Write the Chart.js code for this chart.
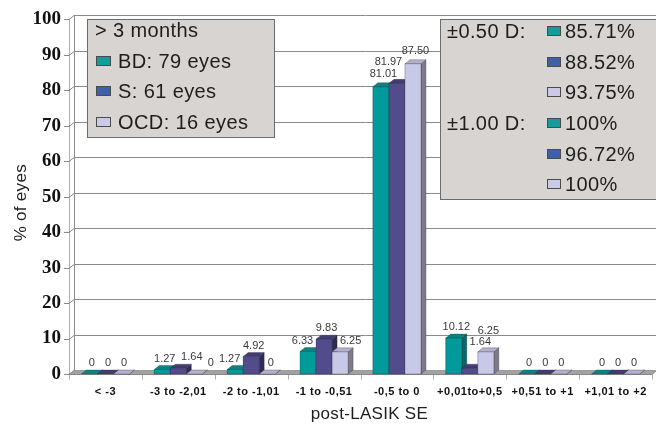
<!DOCTYPE html>
<html>
<head>
<meta charset="utf-8">
<script src="https://cdn.jsdelivr.net/npm/chart.js@4.4.0/dist/chart.umd.min.js"></script>
<style>
  html, body { margin: 0; padding: 0; background: #ffffff; }
  #wrap { width: 656px; height: 427px; position: relative; }
</style>
</head>
<body>
<div id="wrap"><canvas id="c" width="656" height="427"></canvas></div>
<script>
// Post-LASIK spherical equivalent distribution, > 3 months
const categories = ['< -3', '-3 to -2,01', '-2 to -1,01', '-1 to -0,51', '-0,5 to 0', '+0,01to+0,5', '+0,51 to +1', '+1,01 to +2'];
const bdValues  = [0, 1.27, 1.27, 6.33, 81.01, 10.12, 0, 0];
const sValues   = [0, 1.64, 4.92, 9.83, 81.97, 1.64, 0, 0];
const ocdValues = [0, 0, 0, 6.25, 87.50, 6.25, 0, 0];
const seriesNames = ['BD: 79 eyes', 'S: 61 eyes', 'OCD: 16 eyes'];
const legendTitle = '> 3 months';
const within050 = ['85.71%', '88.52%', '93.75%'];
const within100 = ['100%', '96.72%', '100%'];
const yTicks = { min: 0, max: 100, step: 10 };
const xTitle = 'post-LASIK SE';
const yTitle = '% of eyes';

const SANS = '"Liberation Sans", Arial, sans-serif';
const SERIF = '"Liberation Serif", "Times New Roman", serif';

// face shades per series: front, top, side
const shades = [
  { front: '#009a9a', top: '#0b8383', side: '#066868' },
  { front: '#534c8c', top: '#433d74', side: '#2f2b55' },
  { front: '#c8c8e8', top: '#b2b2d0', side: '#7e7a8a' }
];
const swatch = ['#149b9b', '#3f60a8', '#cacae8'];
const DX = 5, DY = 4;

// legend panel rectangles (x, y, w, h)
const leftPanel = { x: 87, y: 19, w: 187, h: 118 };
const rightPanel = { x: 440, y: 19, w: 216, h: 180 };

function poly(ctx, pts, fill, stroke) {
  ctx.beginPath();
  ctx.moveTo(pts[0][0], pts[0][1]);
  for (let i = 1; i < pts.length; i++) ctx.lineTo(pts[i][0], pts[i][1]);
  ctx.closePath();
  ctx.fillStyle = fill;
  ctx.fill();
  if (stroke) { ctx.strokeStyle = stroke; ctx.lineWidth = 0.6; ctx.stroke(); }
}

// back wall, gridlines, floor, axes, category labels and axis titles
const wallPlugin = {
  id: 'wall',
  beforeDatasetsDraw(chart) {
    const { ctx, chartArea: a, scales } = chart;
    const y = scales.y, x = scales.x;
    ctx.save();
    ctx.strokeStyle = '#8a8a8a';
    ctx.lineWidth = 1;
    for (let v = yTicks.min; v <= yTicks.max; v += yTicks.step) {
      const py = Math.round(y.getPixelForValue(v)) + 0.5;
      ctx.beginPath();
      ctx.moveTo(a.left, py);
      ctx.lineTo(a.left + DX, py - DY);
      if (v > yTicks.min) ctx.lineTo(a.right + DX, py - DY);
      ctx.stroke();
      ctx.beginPath();
      ctx.moveTo(a.left - 5, py);
      ctx.lineTo(a.left, py);
      ctx.stroke();
    }
    ctx.beginPath();
    ctx.moveTo(a.left + DX + 0.5, Math.round(a.top) - DY + 0.5);
    ctx.lineTo(a.left + DX + 0.5, Math.round(a.bottom) - DY + 0.5);
    ctx.stroke();
    const b = Math.round(a.bottom) + 0.5;
    poly(ctx, [[a.left, b], [a.right, b], [a.right + DX, b - DY], [a.left + DX, b - DY]], '#a2a2a2', '#7a7a7a');
    ctx.strokeStyle = '#7a7a7a';
    ctx.beginPath();
    ctx.moveTo(Math.round(a.left) + 0.5, Math.round(a.top));
    ctx.lineTo(Math.round(a.left) + 0.5, b);
    ctx.stroke();
    ctx.beginPath();
    ctx.moveTo(a.left, b);
    ctx.lineTo(a.right, b);
    const n = categories.length;
    for (let i = 0; i <= n; i++) {
      const px = Math.round(a.left + (a.right - a.left) * i / n) + 0.5;
      ctx.moveTo(px, b);
      ctx.lineTo(px, b + 5);
    }
    ctx.stroke();
    // category labels, slightly spaced out
    ctx.font = 'bold 11px ' + SANS;
    ctx.letterSpacing = '0.5px';
    ctx.fillStyle = '#111111';
    ctx.textAlign = 'center';
    ctx.textBaseline = 'middle';
    categories.forEach((c, i) => ctx.fillText(c, x.getPixelForValue(i), b + 17));
    ctx.letterSpacing = '0.3px';
    // axis titles
    ctx.font = '17px ' + SANS;
    ctx.fillStyle = '#1e1e1e';
    ctx.fillText(xTitle, (a.left + a.right) / 2 + 9, 414);
    ctx.save();
    ctx.translate(21, (a.top + a.bottom) / 2 + 6);
    ctx.rotate(-Math.PI / 2);
    ctx.fillText(yTitle, 0, 0);
    ctx.restore();
    ctx.letterSpacing = '0px';
    ctx.restore();
  }
};

function overlaps(r, s) {
  return r.x1 < s.x2 && r.x2 > s.x1 && r.y1 < s.y2 && r.y2 > s.y1;
}

// 3-D bar bodies and value labels
const barsPlugin = {
  id: 'bars3d',
  afterDatasetsDraw(chart) {
    const { ctx } = chart;
    const nSets = chart.data.datasets.length;
    const obstacles = [];
    [leftPanel, rightPanel].forEach(p => obstacles.push({ x1: p.x, y1: p.y, x2: p.x + p.w, y2: p.y + p.h }));
    ctx.save();
    for (let i = 0; i < categories.length; i++) {
      for (let d = 0; d < nSets; d++) {
        const el = chart.getDatasetMeta(d).data[i];
        const p = el.getProps(['x', 'y', 'base', 'width'], true);
        const l = p.x - p.width / 2, r = p.x + p.width / 2;
        const t = p.y, bb = p.base;
        const s = shades[d];
        poly(ctx, [[r, t], [r + DX, t - DY], [r + DX, bb - DY], [r, bb]], s.side, 'rgba(40,40,40,0.5)');
        poly(ctx, [[l, t], [r, t], [r + DX, t - DY], [l + DX, t - DY]], s.top, 'rgba(40,40,40,0.5)');
        if (bb - t > 0.5) poly(ctx, [[l, t], [r, t], [r, bb], [l, bb]], s.front, 'rgba(40,40,40,0.5)');
        obstacles.push({ x1: l, y1: t - DY, x2: r + DX, y2: bb });
      }
    }
    // value labels, nudged away from bars and from each other
    ctx.font = '11px ' + SANS;
    ctx.fillStyle = '#3a3a3a';
    ctx.textAlign = 'center';
    ctx.textBaseline = 'middle';
    const PAD = 2.5;
    const cands = [];
    for (let dx = -40; dx <= 40; dx++) for (let dy = 0; dy >= -40; dy--) cands.push([dx, dy, Math.abs(dx) + 1.5 * Math.abs(dy)]);
    cands.sort((m, n) => m[2] - n[2]);
    for (let i = 0; i < categories.length; i++) {
      for (let d = 0; d < nSets; d++) {
        const el = chart.getDatasetMeta(d).data[i];
        const p = el.getProps(['x', 'y'], true);
        const v = chart.data.datasets[d].data[i];
        const txt = v === 0 ? '0' : v.toFixed(2);
        const w = ctx.measureText(txt).width;
        const cx0 = p.x + DX / 2, cy0 = p.y - DY - 7;
        let best = null;
        for (const [dx, dy] of cands) {
          const box = { x1: cx0 + dx - w / 2 - PAD, x2: cx0 + dx + w / 2 + PAD, y1: cy0 + dy - 5.5, y2: cy0 + dy + 5.5 };
          if (!obstacles.some(o => overlaps(box, o))) { best = [cx0 + dx, cy0 + dy, box]; break; }
        }
        if (!best) best = [cx0, cy0, null];
        ctx.fillText(txt, best[0], best[1]);
        if (best[2]) obstacles.push(best[2]);
      }
    }
    ctx.restore();
  }
};

// the two grey legend panels
const panelsPlugin = {
  id: 'panels',
  afterDraw(chart) {
    const { ctx } = chart;
    ctx.save();
    ctx.textBaseline = 'middle';
    ctx.textAlign = 'left';
    ctx.letterSpacing = '0.4px';
    const L = leftPanel, R = rightPanel;
    ctx.fillStyle = '#d7d4d1';
    ctx.fillRect(L.x, L.y, L.w, L.h);
    ctx.strokeStyle = '#6c6c6c';
    ctx.lineWidth = 1;
    ctx.strokeRect(L.x + 0.5, L.y + 0.5, L.w, L.h);
    ctx.font = '20px ' + SANS;
    ctx.fillStyle = '#1e1e1e';
    ctx.fillText(legendTitle, 95, 31);
    const rowsL = [61, 91, 122];
    seriesNames.forEach((name, k) => {
      ctx.fillStyle = swatch[k];
      ctx.fillRect(96, rowsL[k] - 5, 15, 10);
      ctx.strokeStyle = '#4a4a4a';
      ctx.strokeRect(96.5, rowsL[k] - 4.5, 14, 9);
      ctx.fillStyle = '#1e1e1e';
      ctx.fillText(name, 118, rowsL[k] + 1);
    });
    ctx.fillStyle = '#d7d4d1';
    ctx.fillRect(R.x, R.y, R.w, R.h);
    ctx.strokeStyle = '#6c6c6c';
    ctx.strokeRect(R.x + 0.5, R.y + 0.5, R.w, R.h);
    const rowsR = [31, 62, 92, 123, 154, 184];
    const vals = within050.concat(within100);
    ctx.fillStyle = '#1e1e1e';
    ctx.fillText('\u00B10.50 D:', 447, rowsR[0] + 1);
    ctx.fillText('\u00B11.00 D:', 447, rowsR[3] + 1);
    vals.forEach((txt, k) => {
      ctx.fillStyle = swatch[k % 3];
      ctx.fillRect(547, rowsR[k] - 5, 14, 10);
      ctx.strokeStyle = '#4a4a4a';
      ctx.strokeRect(547.5, rowsR[k] - 4.5, 13, 9);
      ctx.fillStyle = '#1e1e1e';
      ctx.fillText(txt, 565, rowsR[k] + 1);
    });
    ctx.letterSpacing = '0px';
    ctx.restore();
  }
};

new Chart(document.getElementById('c'), {
  type: 'bar',
  data: {
    labels: categories,
    datasets: [
      { label: seriesNames[0], data: bdValues, backgroundColor: shades[0].front },
      { label: seriesNames[1], data: sValues, backgroundColor: shades[1].front },
      { label: seriesNames[2], data: ocdValues, backgroundColor: shades[2].front }
    ]
  },
  options: {
    responsive: false,
    animation: false,
    devicePixelRatio: 1,
    layout: { padding: { top: 16, right: 4, left: 0, bottom: 0 } },
    datasets: { bar: { barPercentage: 1, categoryPercentage: 0.66 } },
    plugins: { legend: { display: false }, tooltip: { enabled: false } },
    scales: {
      x: {
        grid: { display: false, drawTicks: false },
        border: { display: false },
        ticks: { display: false },
        afterFit(scale) { scale.height = 53; }
      },
      y: {
        min: yTicks.min, max: yTicks.max,
        grid: { display: false, drawTicks: false },
        border: { display: false },
        ticks: {
          stepSize: yTicks.step, padding: 8,
          color: '#111111', font: { family: SERIF, size: 19, weight: 'bold' }
        },
        afterFit(scale) { scale.width = 69; }
      }
    }
  },
  plugins: [wallPlugin, barsPlugin, panelsPlugin]
});
</script>
</body>
</html>
